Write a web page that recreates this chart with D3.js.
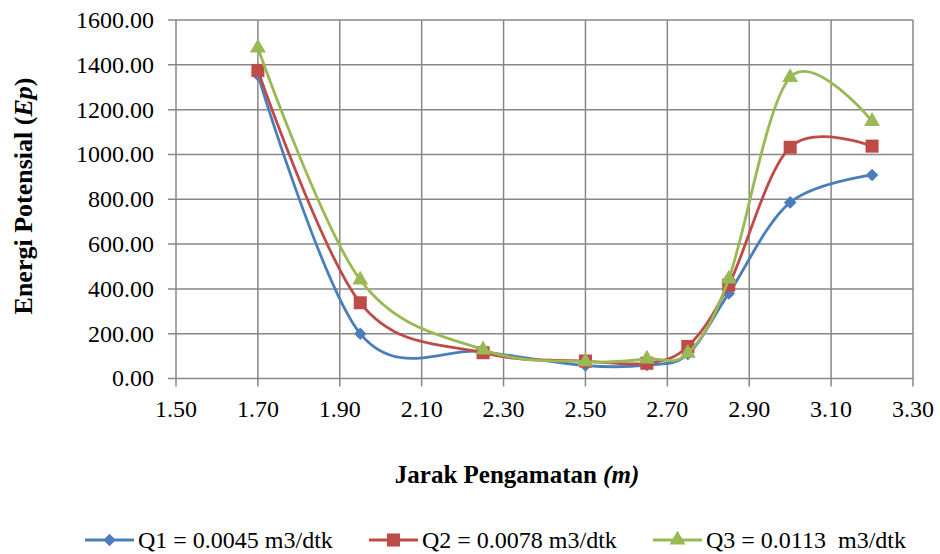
<!DOCTYPE html>
<html>
<head>
<meta charset="utf-8">
<script src="https://cdn.jsdelivr.net/npm/d3@7"></script>
<style>
html,body{margin:0;padding:0;background:#fff;}
svg{display:block;font-family:"Liberation Serif","Times New Roman",serif;}
</style>
</head>
<body>
<svg id="chart" width="940" height="554"></svg>
<script>
const xValues = [1.70, 1.95, 2.25, 2.50, 2.65, 2.75, 2.85, 3.00, 3.20];
const q1Values = [1354, 200, 120, 58, 60, 109, 379, 786, 908];
const q2Values = [1375, 338, 115, 78, 68, 143, 417, 1032, 1037];
const q3Values = [1475, 440, 128, 75, 87, 113, 444, 1344, 1148];
const seriesNames = ["Q1 = 0.0045 m3/dtk", "Q2 = 0.0078 m3/dtk", "Q3 = 0.0113  m3/dtk"];
const xTicks = [1.50, 1.70, 1.90, 2.10, 2.30, 2.50, 2.70, 2.90, 3.10, 3.30];
const yTicks = [0, 200, 400, 600, 800, 1000, 1200, 1400, 1600];

const colors = ["#4A7EBB", "#BE4B48", "#98B954"];
const symbols = [d3.symbolDiamond2, d3.symbolSquare, d3.symbolTriangle];
const symSizes = [100, 170, 110];

const svg = d3.select("#chart");
const pL = 176, pR = 913, pT = 20, pB = 378.5;
const x = d3.scaleLinear().domain([1.5, 3.3]).range([pL, pR]);
const y = d3.scaleLinear().domain([0, 1600]).range([pB, pT]);
const grid = "#878787";

// gridlines
svg.append("g").selectAll("line").data(xTicks).join("line")
  .attr("x1", d => x(d)).attr("x2", d => x(d)).attr("y1", pT).attr("y2", pB + 8)
  .attr("stroke", grid).attr("stroke-width", 1.5);
svg.append("g").selectAll("line").data(yTicks).join("line")
  .attr("x1", pL - 8).attr("x2", pR).attr("y1", d => y(d)).attr("y2", d => y(d))
  .attr("stroke", grid).attr("stroke-width", 1.5);

// tick labels
const fmt = d3.format(".2f");
svg.append("g").selectAll("text").data(xTicks).join("text")
  .attr("x", d => x(d)).attr("y", 417).attr("text-anchor", "middle")
  .attr("font-size", 24).attr("fill", "#000").text(d => fmt(d));
svg.append("g").selectAll("text").data(yTicks).join("text")
  .attr("x", 154).attr("y", d => y(d)).attr("dy", "0.33em").attr("text-anchor", "end")
  .attr("font-size", 24).attr("fill", "#000").text(d => fmt(d));

// axis titles
const yt = svg.append("text")
  .attr("transform", "translate(32,196) rotate(-90)")
  .attr("text-anchor", "middle").attr("font-size", 26).attr("font-weight", "bold");
yt.append("tspan").text("Energi Potensial (");
yt.append("tspan").attr("font-style", "italic").text("Ep");
yt.append("tspan").text(")");

const xt = svg.append("text")
  .attr("x", 517).attr("y", 483).attr("text-anchor", "middle")
  .attr("font-size", 25).attr("font-weight", "bold");
xt.append("tspan").text("Jarak Pengamatan ");
xt.append("tspan").attr("font-style", "italic").text("(m)");

// series
const allSeries = [q1Values, q2Values, q3Values];
const line = d3.line().x((d, i) => x(xValues[i])).y(d => y(d)).curve(d3.curveCardinal.tension(0));
allSeries.forEach((vals, s) => {
  const g = svg.append("g");
  g.append("path").datum(vals).attr("d", line).attr("fill", "none")
    .attr("stroke", colors[s]).attr("stroke-width", 2.8);
  g.selectAll("path.m").data(vals).join("path").attr("class", "m")
    .attr("transform", (d, i) => `translate(${x(xValues[i])},${y(d)})`)
    .attr("d", d3.symbol().type(symbols[s]).size(symSizes[s]))
    .attr("fill", colors[s]);
});

// legend
const legX = [85, 369, 653];
seriesNames.forEach((name, s) => {
  const g = svg.append("g").attr("transform", `translate(${legX[s]},540)`);
  g.append("line").attr("x1", 0).attr("x2", 49).attr("y1", 0).attr("y2", 0)
    .attr("stroke", colors[s]).attr("stroke-width", 2.8);
  g.append("path").attr("transform", "translate(24.5,0)")
    .attr("d", d3.symbol().type(symbols[s]).size(symSizes[s])).attr("fill", colors[s]);
  g.append("text").attr("x", 53).attr("y", 0).attr("dy", "0.33em")
    .attr("font-size", 24).attr("fill", "#000").style("white-space", "pre").text(name);
});
</script>
</body>
</html>
